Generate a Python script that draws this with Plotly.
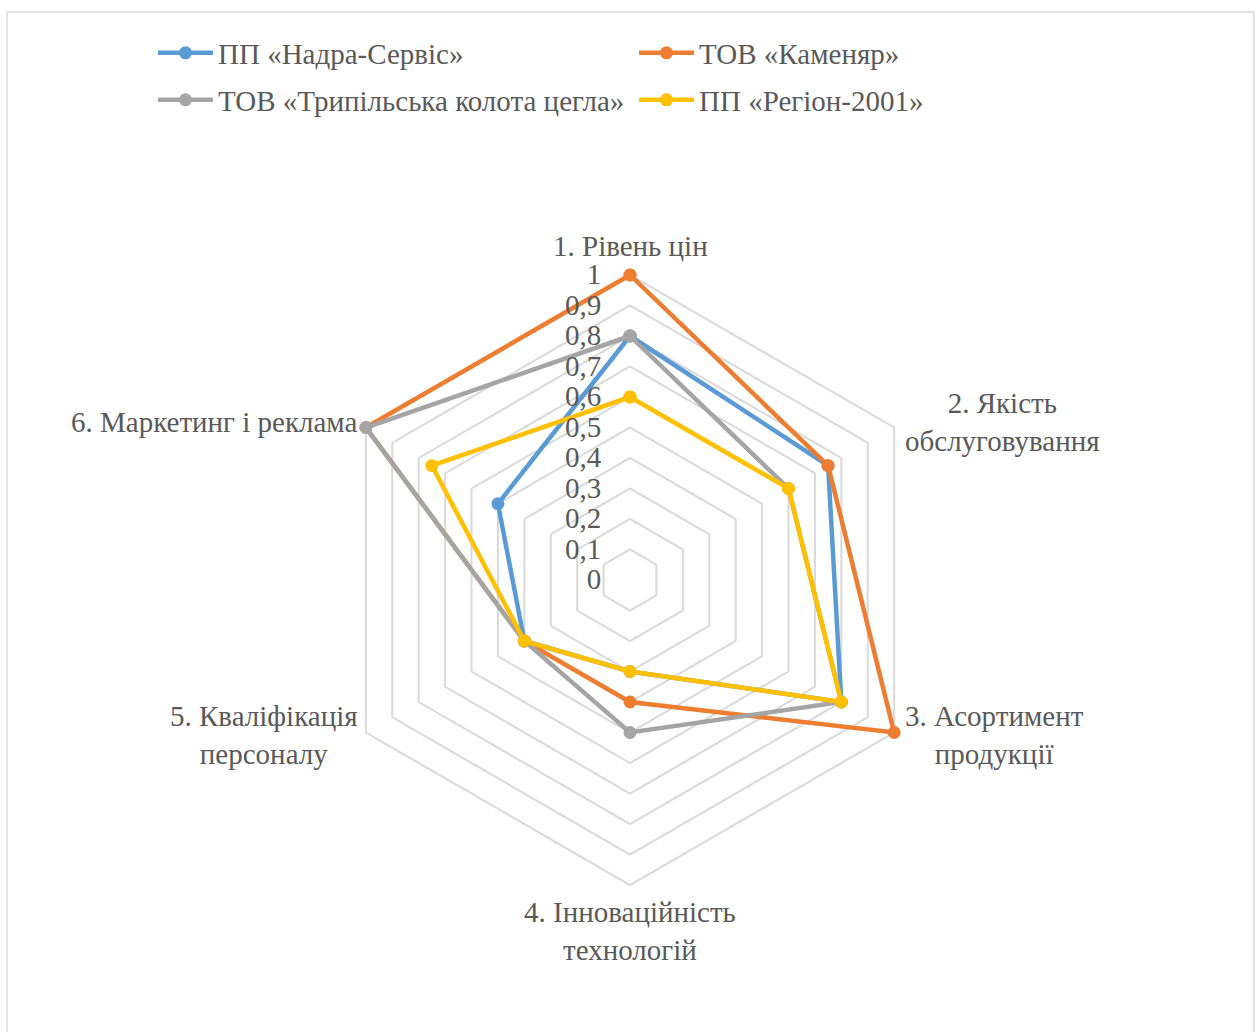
import math
import plotly.graph_objects as go

categories = ["1. Рівень цін", "2. Якість обслуговування", "3. Асортимент продукції",
              "4. Інноваційність технологій", "5. Кваліфікація персоналу", "6. Маркетинг і реклама"]
category_labels = ["1. Рівень цін",
                   "2. Якість<br>обслуговування",
                   "3. Асортимент<br>продукції",
                   "4. Інноваційність<br>технологій",
                   "5. Кваліфікація<br>персоналу",
                   "6. Маркетинг і реклама"]

series_names = ["ПП «Надра-Сервіс»", "ТОВ «Каменяр»", "ТОВ «Трипільська колота цегла»", "ПП «Регіон-2001»"]
nadra = [0.8, 0.75, 0.8, 0.3, 0.4, 0.5]
kamenyar = [1.0, 0.75, 1.0, 0.4, 0.4, 1.0]
trypilska = [0.8, 0.6, 0.8, 0.5, 0.4, 1.0]
region = [0.6, 0.6, 0.8, 0.3, 0.4, 0.75]
radial_ticks = [0, 0.1, 0.2, 0.3, 0.4, 0.5, 0.6, 0.7, 0.8, 0.9, 1.0]

colors = ["#5B9BD5", "#ED7D31", "#A5A5A5", "#FFC000"]
legends = ["legend", "legend", "legend2", "legend2"]

FONT = "Liberation Serif, Times New Roman, serif"
TXT = "#595959"
FS = 29
W, H = 1255, 1032

fig = go.Figure()
for name, vals, col, lg in zip(series_names, [nadra, kamenyar, trypilska, region], colors, legends):
    fig.add_trace(go.Scatterpolar(
        r=vals + vals[:1], theta=categories + categories[:1],
        mode="lines+markers", name=name, legend=lg,
        line=dict(color=col, width=4.5),
        marker=dict(color=col, size=13),
        cliponaxis=False,
    ))

# polar geometry (pixels): centre and radius of value 1.0
cx, cy, R = 630, 580, 305
rmax = 1.02
Rd = R * rmax

# category labels placed just outside the outer hexagon vertices
annotations = []
for i, lab in enumerate(category_labels):
    ang = math.radians(90 - 60 * i)
    c, s = math.cos(ang), math.sin(ang)
    vx, vy = cx + R * c, cy - R * s
    if abs(c) < 0.1:
        xanchor = "center"
        yanchor = "bottom" if s > 0 else "top"
        xshift, yshift = 0, (11 if s > 0 else -9)
    else:
        xanchor = "left" if c > 0 else "right"
        yanchor = "middle"
        xshift = 9 if c > 0 else -6
        yshift = 5 if s > 0 else -2
    annotations.append(dict(
        x=vx / W, y=1 - vy / H, xref="paper", yref="paper",
        text=lab, showarrow=False, xanchor=xanchor, yanchor=yanchor, align="center",
        xshift=xshift, yshift=yshift,
        font=dict(family=FONT, size=FS, color=TXT),
    ))

fig.update_layout(
    width=W, height=H,
    margin=dict(l=0, r=0, t=0, b=0),
    paper_bgcolor="white",
    separators=", ",
    font=dict(family=FONT, size=FS, color=TXT),
    polar=dict(
        domain=dict(x=[(cx - Rd) / W, (cx + Rd) / W], y=[(H - cy - Rd) / H, (H - cy + Rd) / H]),
        bgcolor="white",
        gridshape="linear",
        angularaxis=dict(
            type="category", categoryarray=categories,
            rotation=90, direction="clockwise",
            showgrid=False, showline=False, showticklabels=False, ticks="",
        ),
        radialaxis=dict(
            range=[0, rmax], tickvals=radial_ticks, angle=90, tickangle=90,
            side="counterclockwise",
            showline=False, gridcolor="#D9D9D9", gridwidth=1.5,
            ticks="outside", ticklen=18, tickcolor="rgba(0,0,0,0)",
            tickfont=dict(family=FONT, size=FS, color=TXT),
        ),
    ),
    showlegend=True,
    legend=dict(orientation="h", x=153 / W, y=1 - 53 / H, yanchor="middle", xanchor="left",
                entrywidth=411, entrywidthmode="pixels", itemwidth=55,
                font=dict(family=FONT, size=FS, color=TXT), bgcolor="rgba(0,0,0,0)"),
    legend2=dict(orientation="h", x=153 / W, y=1 - 100 / H, yanchor="middle", xanchor="left",
                 entrywidth=411, entrywidthmode="pixels", itemwidth=55,
                 font=dict(family=FONT, size=FS, color=TXT), bgcolor="rgba(0,0,0,0)"),
    annotations=annotations,
    shapes=[dict(type="rect", xref="paper", yref="paper",
                 x0=7 / W, x1=1254 / W, y0=-0.02, y1=1 - 12 / H,
                 line=dict(color="#D9D9D9", width=1.5), layer="below")],
)

fig.write_html("out.html")
